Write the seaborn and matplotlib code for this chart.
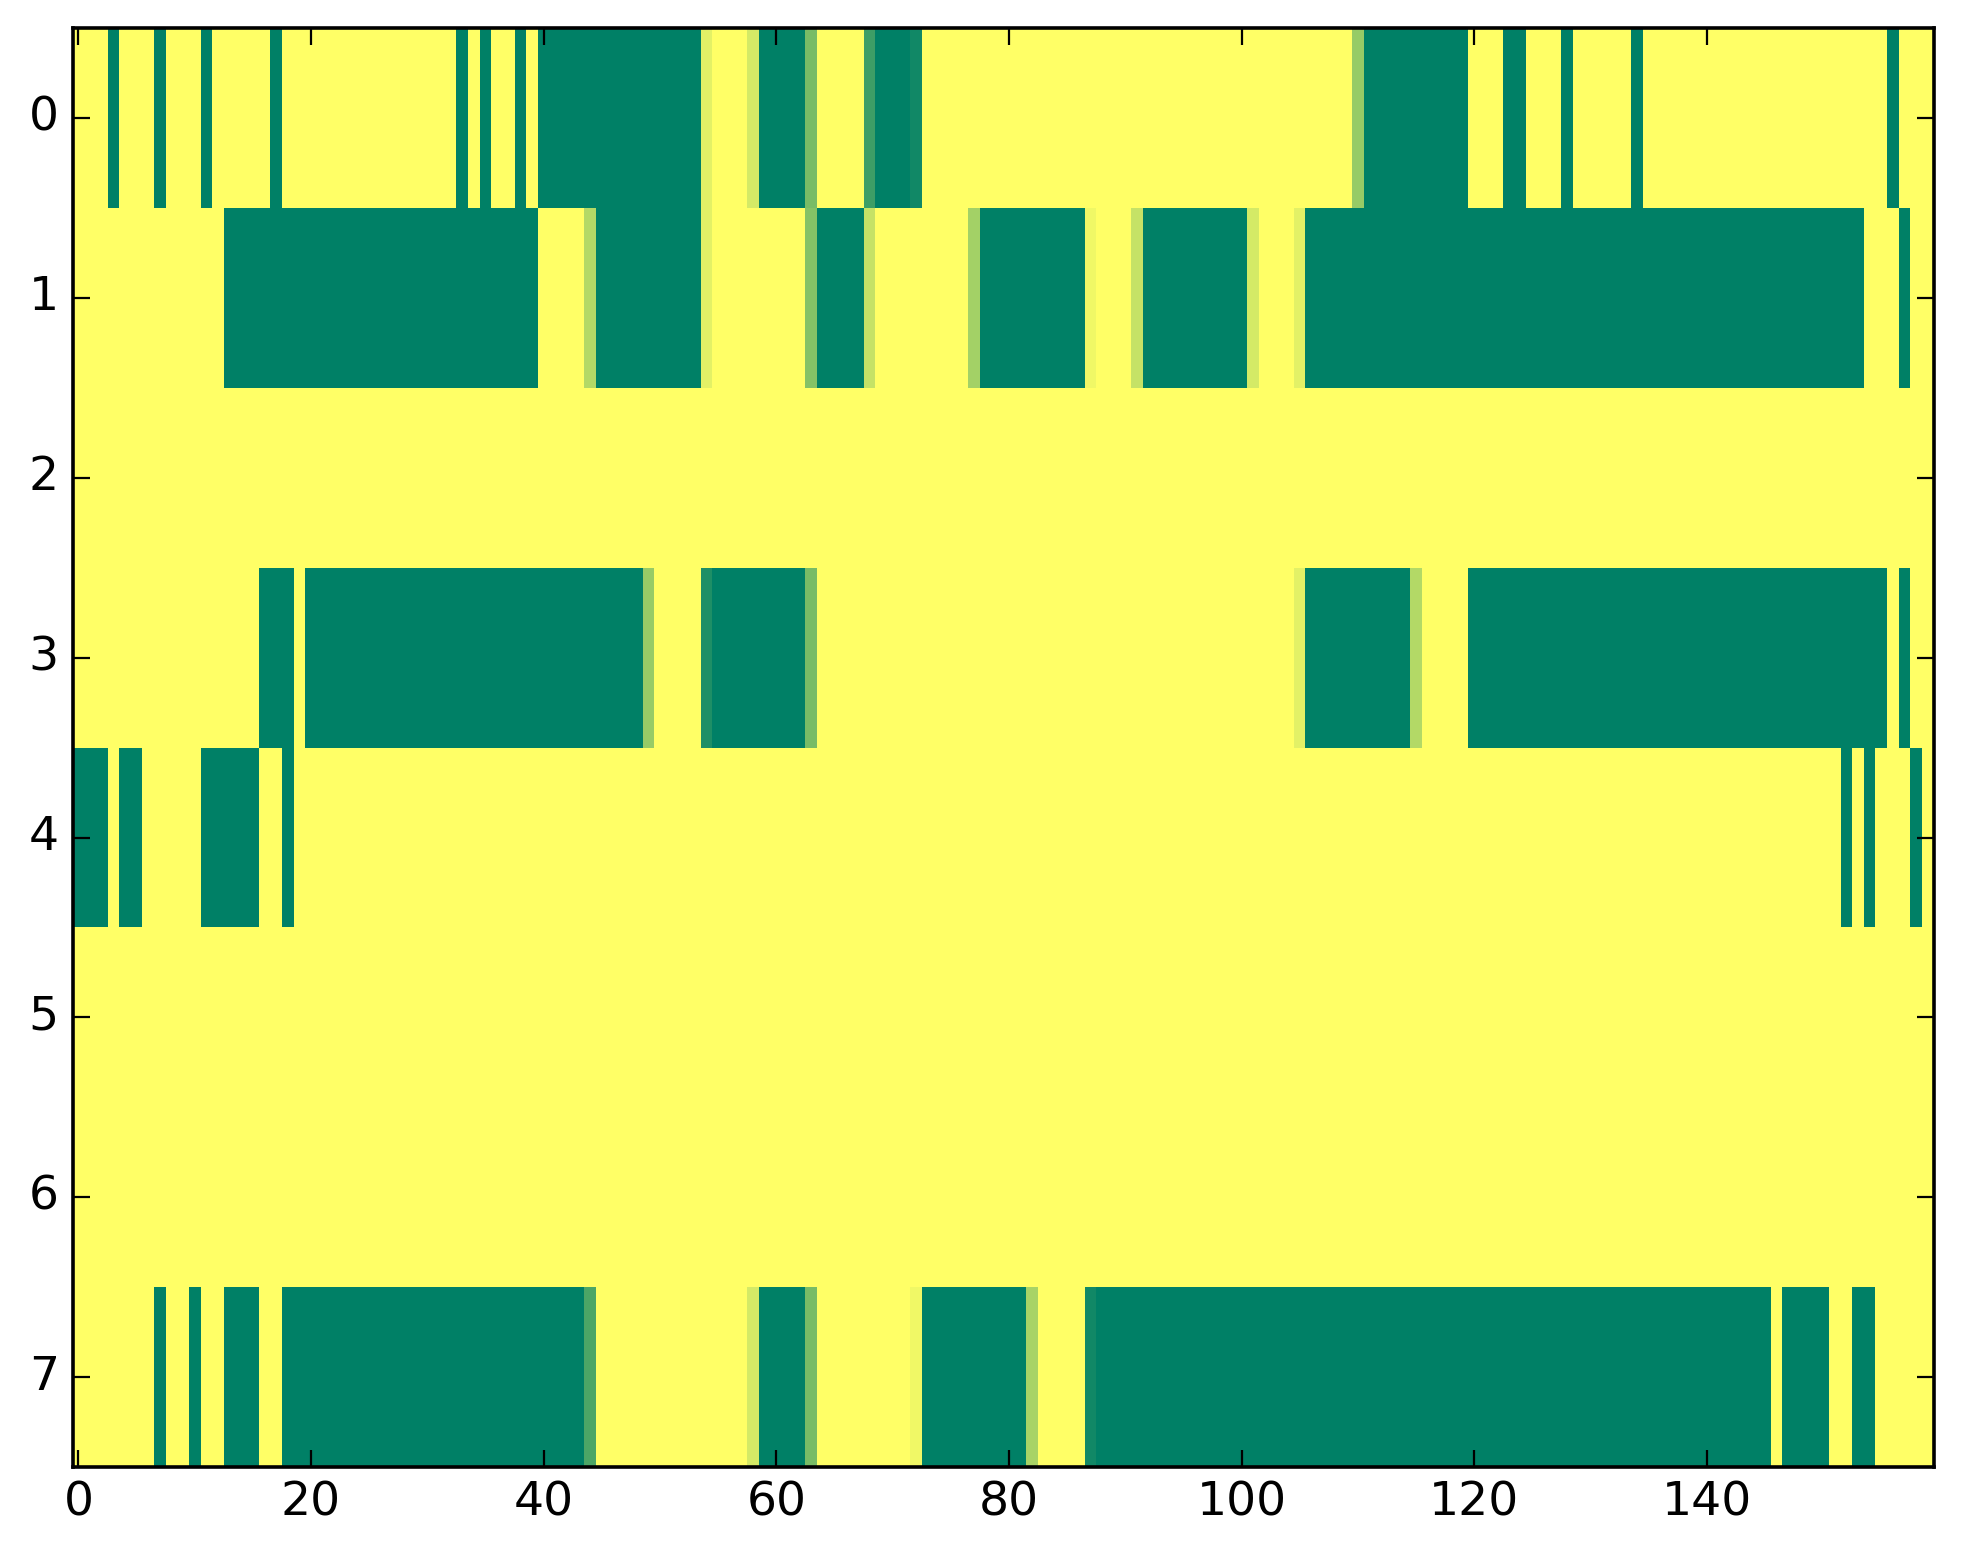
import numpy as np
import pandas as pd
import matplotlib
matplotlib.use("Agg")
import matplotlib.pyplot as plt
import seaborn as sns

n_rows = 8
n_cols = 160

# Green (value 1) runs per row: inclusive (start, end) column ranges
green_runs = {
    0: [(3, 3), (7, 7), (11, 11), (17, 17), (33, 33), (35, 35), (38, 38), (40, 53),
        (59, 62), (69, 71), (111, 119), (123, 124), (128, 128), (134, 134), (156, 156)],
    1: [(13, 39), (45, 53), (64, 67), (78, 86), (92, 100), (106, 153), (157, 157)],
    2: [],
    3: [(16, 18), (20, 48), (55, 62), (106, 114), (120, 155), (157, 157)],
    4: [(0, 2), (4, 5), (11, 15), (18, 18), (152, 152), (154, 154), (158, 158)],
    5: [],
    6: [],
    7: [(7, 7), (10, 10), (13, 15), (18, 43), (59, 62), (73, 81), (88, 145),
        (147, 150), (153, 154)],
}

# Cells with intermediate values: {column: value}
partial_cells = {
    0: {54: 0.11, 58: 0.17, 63: 0.53, 68: 0.76, 72: 0.93, 110: 0.41},
    1: {44: 0.30, 54: 0.11, 63: 0.48, 68: 0.23, 77: 0.36, 87: 0.06, 91: 0.23,
        101: 0.17, 105: 0.11},
    2: {},
    3: {49: 0.41, 54: 0.88, 63: 0.53, 105: 0.11, 115: 0.30},
    4: {},
    5: {},
    6: {},
    7: {44: 0.70, 58: 0.17, 63: 0.53, 72: 0.06, 82: 0.34, 87: 0.93},
}

x_tick_values = [0, 20, 40, 60, 80, 100, 120, 140]
y_tick_values = [0, 1, 2, 3, 4, 5, 6, 7]

# Build matrix from the read values
matrix = np.zeros((n_rows, n_cols))
for r, runs in green_runs.items():
    for s, e in runs:
        matrix[r, s:e + 1] = 1.0
for r, cells in partial_cells.items():
    for c, v in cells.items():
        matrix[r, c] = v
df = pd.DataFrame(matrix)

fig = plt.figure(figsize=(1963 / 200, 1564 / 200), dpi=200)
ax = fig.add_axes([0.037, 0.062, 0.948, 0.920])

sns.heatmap(df, ax=ax, cmap="summer_r", vmin=0, vmax=1, cbar=False,
            linewidths=0, rasterized=True)

for sp in ax.spines.values():
    sp.set_visible(True)
    sp.set_linewidth(1.3)
    sp.set_color("black")

ax.set_xlim(0, n_cols)
ax.set_ylim(n_rows, 0)
ax.set_xticks([v + 0.5 for v in x_tick_values])
ax.set_xticklabels([str(v) for v in x_tick_values], rotation=0)
ax.set_yticks([v + 0.5 for v in y_tick_values])
ax.set_yticklabels([str(v) for v in y_tick_values], rotation=0)
ax.tick_params(axis="both", which="major", direction="in", length=6, width=0.8,
               top=True, right=True, labelsize=17, colors="black", pad=5)
ax.set_xlabel("")
ax.set_ylabel("")

fig.savefig("out.png", dpi=200)
